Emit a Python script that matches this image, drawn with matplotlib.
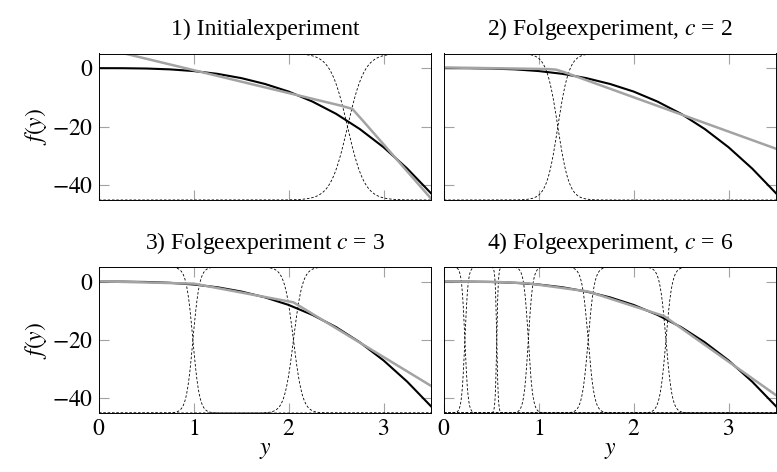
import numpy as np
import matplotlib
matplotlib.use("Agg")
import matplotlib.pyplot as plt
from matplotlib.ticker import FixedLocator, FixedFormatter, NullFormatter

plt.rcParams["font.family"] = ["Liberation Serif", "DejaVu Serif"]
plt.rcParams["mathtext.fontset"] = "stix"

# Target function f(y), sampled along y
y_samples = [0.0, 0.25, 0.5, 0.75, 1.0, 1.25, 1.5, 1.75, 2.0, 2.25, 2.5, 2.75, 3.0, 3.25, 3.5]
f_samples = [0.0, -0.02, -0.13, -0.42, -1.0, -1.95, -3.4, -5.4, -8.0, -11.4, -15.6, -20.8, -27.0, -34.3, -42.7]

# Piecewise-linear approximations (knots in y and approximated f values)
approx_y = [
    [0.0, 2.55, 2.67, 2.77, 3.5],
    [0.0, 1.1, 1.18, 1.27, 3.5],
    [0.0, 1.0, 2.05, 3.5],
    [0.0, 0.22, 0.556, 0.889, 1.52, 2.32, 3.5],
]
approx_f = [
    [7.1, -12.8, -13.9, -17.5, -44.5],
    [0.24, -0.31, -0.5, -1.4, -27.5],
    [0.1, -0.7, -7.1, -35.7],
    [0.05, 0.0, -0.12, -0.6, -3.4, -11.8, -38.9],
]

# Region boundaries of the gating functions and their transition widths
gate_centers = [
    [2.62],
    [1.2],
    [0.99, 2.05],
    [0.22, 0.556, 0.889, 1.52, 2.34],
]
gate_widths = [
    [0.09],
    [0.06],
    [0.035, 0.048],
    [0.017, 0.008, 0.024, 0.033, 0.033],
]

titles = [
    "1) Initialexperiment",
    "2) Folgeexperiment, $c$ = 2",
    "3) Folgeexperiment $c$ = 3",
    "4) Folgeexperiment, $c$ = 6",
]

x_ticks = [0, 1, 2, 3]
y_ticks = [-40, -20, 0]
y_tick_labels = ["$-40$", "$-20$", "$0$"]
x_lim = (0, 3.5)
y_lim = (-45, 5)

GRAY = "#a3a3a3"
FS = 17

fig = plt.figure(figsize=(7.77, 4.72), dpi=100)
W, H = 777.0, 472.0
rects = [
    (99, 53.5, 431, 200),
    (444, 53.5, 776, 200),
    (99, 267, 431, 413),
    (444, 267, 776, 413),
]


def sigmoid(t):
    return 1.0 / (1.0 + np.exp(-t))


yy = np.linspace(x_lim[0], x_lim[1], 1200)

for k, (x0, y0, x1, y1) in enumerate(rects):
    ax = fig.add_axes([x0 / W, 1 - y1 / H, (x1 - x0) / W, (y1 - y0) / H])

    # gating functions, scaled to the vertical range of the axes
    cs = gate_centers[k]
    ws = gate_widths[k]
    n_regions = len(cs) + 1
    for i in range(n_regions):
        g = np.ones_like(yy)
        if i > 0:
            g *= sigmoid((yy - cs[i - 1]) / ws[i - 1])
        if i < n_regions - 1:
            g *= 1 - sigmoid((yy - cs[i]) / ws[i])
        ax.plot(yy, y_lim[0] + (y_lim[1] - y_lim[0]) * g, color="black",
                lw=0.6, ls=(0, (3.0, 2.2)), zorder=2)

    ax.plot(y_samples, f_samples, color="black", lw=1.5, zorder=3,
            solid_joinstyle="round")
    ax.plot(approx_y[k], approx_f[k], color=GRAY, lw=1.8, zorder=4,
            solid_joinstyle="round")

    ax.set_xlim(*x_lim)
    ax.set_ylim(*y_lim)
    ax.xaxis.set_major_locator(FixedLocator(x_ticks))
    ax.yaxis.set_major_locator(FixedLocator(y_ticks))
    ax.tick_params(direction="in", length=7.5, width=0.8, color=GRAY,
                   top=True, right=True, labelsize=FS, pad=4)
    for sp in ax.spines.values():
        sp.set_linewidth(0.7)
        sp.set_color("black")
        sp.set_zorder(5)

    if k in (0, 2):
        ax.yaxis.set_major_formatter(FixedFormatter(y_tick_labels))
        ax.set_ylabel("$f(y)$", fontsize=FS, labelpad=2)
    else:
        ax.yaxis.set_major_formatter(NullFormatter())
    if k in (2, 3):
        ax.xaxis.set_major_formatter(FixedFormatter([f"${t}$" for t in x_ticks]))
        ax.set_xlabel("$y$", fontsize=FS, labelpad=0)
    else:
        ax.xaxis.set_major_formatter(NullFormatter())

    ax.set_title(titles[k], fontsize=FS, pad=13)

fig.savefig("out.png", dpi=100)
